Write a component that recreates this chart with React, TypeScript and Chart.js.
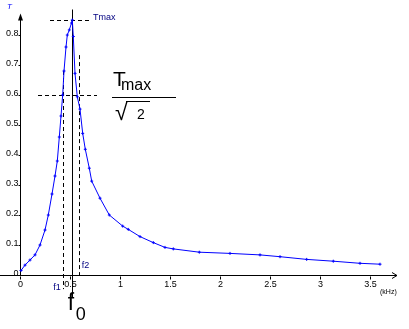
import React, { useEffect, useRef } from "react";
import { Chart, registerables } from "chart.js";
Chart.register(...registerables);

// frequency (kHz)
const freqKHz = [
  0.01, 0.05, 0.1, 0.15, 0.2, 0.25, 0.283, 0.32, 0.35, 0.373, 0.393, 0.41, 0.427,
  0.44, 0.46, 0.473, 0.493, 0.515, 0.523, 0.533, 0.55, 0.573, 0.6, 0.627, 0.653,
  0.693, 0.717, 0.8, 0.893, 1.027, 1.083, 1.2, 1.333, 1.45, 1.533, 1.793, 2.1,
  2.4, 2.6, 2.867, 3.133, 3.4, 3.6,
];
// transmission T
const transmission = [
  0.015, 0.033, 0.05, 0.067, 0.1, 0.15, 0.2, 0.27, 0.33, 0.38, 0.46, 0.53, 0.6,
  0.68, 0.76, 0.8, 0.817, 0.84, 0.85, 0.795, 0.672, 0.594, 0.553, 0.472, 0.419,
  0.356, 0.313, 0.256, 0.2, 0.163, 0.152, 0.128, 0.108, 0.092, 0.087, 0.076,
  0.072, 0.067, 0.061, 0.052, 0.046, 0.039, 0.036,
];

const xTickValues = [0, 0.5, 1, 1.5, 2, 2.5, 3, 3.5];
const xTickLabels = ["0", "0.5", "1", "1.5", "2", "2.5", "3", "3.5"];
const yTickValues = [0, 0.1, 0.2, 0.3, 0.4, 0.5, 0.6, 0.7, 0.8];
const yTickLabels = ["0", "0.1", "0.2", "0.3", "0.4", "0.5", "0.6", "0.7", "0.8"];

const tMax = 0.85;
const tCut = 0.6;
const f0 = 0.517;
const f1 = 0.433;
const f2 = 0.587;

const annotations = {
  id: "annotations",
  beforeDatasetsDraw(chart: any) {
    const { ctx } = chart;
    const xs = chart.scales.x;
    const ys = chart.scales.y;
    const X = (v: number) => xs.getPixelForValue(v);
    const Y = (v: number) => ys.getPixelForValue(v);
    ctx.save();
    ctx.strokeStyle = "#000";
    ctx.fillStyle = "#000";
    ctx.lineWidth = 1;
    // x axis
    const y0 = Math.round(Y(0)) + 0.5;
    ctx.beginPath();
    ctx.moveTo(X(-0.2), y0);
    ctx.lineTo(X(3.77), y0);
    ctx.stroke();
    const ax = X(3.77);
    ctx.beginPath();
    ctx.moveTo(ax - 5, y0 - 3);
    ctx.lineTo(ax, y0);
    ctx.lineTo(ax - 5, y0 + 3);
    ctx.stroke();
    // y axis
    const x0 = Math.round(X(0)) + 0.5;
    ctx.beginPath();
    ctx.moveTo(x0, y0);
    ctx.lineTo(x0, Y(0.865));
    ctx.stroke();
    const ay = Y(0.872);
    ctx.beginPath();
    ctx.moveTo(x0, ay);
    ctx.lineTo(x0 - 2.5, ay + 7);
    ctx.lineTo(x0 + 2.5, ay + 7);
    ctx.closePath();
    ctx.fill();
    // ticks + labels
    ctx.font = "9px 'Liberation Sans', Arial, sans-serif";
    ctx.textAlign = "center";
    ctx.textBaseline = "top";
    xTickValues.forEach((v, i) => {
      const px = Math.round(X(v)) + 0.5;
      ctx.beginPath();
      ctx.moveTo(px, y0 + 1);
      ctx.lineTo(px, y0 + 4);
      ctx.stroke();
      ctx.fillText(xTickLabels[i], px, y0 + 5);
    });
    ctx.textAlign = "right";
    ctx.textBaseline = "middle";
    yTickValues.forEach((v, i) => {
      const py = Math.round(Y(v)) + 0.5;
      ctx.beginPath();
      ctx.moveTo(x0 - 2, py);
      ctx.lineTo(x0, py);
      ctx.stroke();
      ctx.fillText(yTickLabels[i], x0 - 2, py - 2);
    });
    // dashed guide lines
    ctx.setLineDash([4, 3]);
    const hline = (y: number, a: number, b: number) => {
      const py = Math.round(Y(y)) + 0.5;
      ctx.beginPath();
      ctx.moveTo(X(a), py);
      ctx.lineTo(X(b), py);
      ctx.stroke();
    };
    const vline = (x: number, a: number, b: number) => {
      const px = Math.round(X(x)) + 0.5;
      ctx.beginPath();
      ctx.moveTo(px, Y(a));
      ctx.lineTo(px, Y(b));
      ctx.stroke();
    };
    hline(tMax, 0.3, 0.72);
    hline(tCut, 0.18, 0.77);
    vline(f1, 0.68, -0.047);
    vline(f2, 0.733, 0);
    ctx.setLineDash([]);
    vline(f0, 0.885, -0.077);
    ctx.restore();
  },
  afterDatasetsDraw(chart: any) {
    const { ctx } = chart;
    const xs = chart.scales.x;
    const ys = chart.scales.y;
    const X = (v: number) => xs.getPixelForValue(v);
    const Y = (v: number) => ys.getPixelForValue(v);
    ctx.save();
    ctx.textAlign = "left";
    ctx.textBaseline = "alphabetic";
    ctx.fillStyle = "#0000ff";
    ctx.font = "italic 8px 'Liberation Sans', Arial, sans-serif";
    ctx.fillText("T", 7, 9);
    ctx.fillStyle = "#000";
    ctx.font = "7px 'Liberation Sans', Arial, sans-serif";
    ctx.fillText("(kHz)", X(3.6), Y(0) + 19);
    ctx.fillStyle = "#000080";
    ctx.font = "9px 'Liberation Sans', Arial, sans-serif";
    ctx.fillText("Tmax", X(0.73), Y(tMax));
    ctx.fillText("f1", X(f1) - 10, Y(0) + 15);
    ctx.fillText("f2", X(f2) + 3, Y(0) - 7);
    // fraction Tmax / sqrt 2
    ctx.fillStyle = "#000";
    const fx = X(0.92);
    const fy = Math.round(Y(0.594)) + 0.5;
    ctx.font = "21px 'Liberation Sans', Arial, sans-serif";
    ctx.fillText("T", fx + 1, fy - 12);
    ctx.font = "16px 'Liberation Sans', Arial, sans-serif";
    ctx.fillText("max", fx + 9, fy - 8);
    ctx.lineWidth = 1;
    ctx.strokeStyle = "#000";
    ctx.beginPath();
    ctx.moveTo(fx, fy);
    ctx.lineTo(fx + 64, fy);
    ctx.stroke();
    ctx.font = "23px 'Liberation Sans', Arial, sans-serif";
    ctx.fillText("√", fx + 3, fy + 22);
    ctx.beginPath();
    ctx.moveTo(fx + 14, fy + 4);
    ctx.lineTo(fx + 38, fy + 4);
    ctx.stroke();
    ctx.font = "14px 'Liberation Sans', Arial, sans-serif";
    ctx.fillText("2", fx + 25, fy + 21);
    // f0
    ctx.font = "23px 'Liberation Sans', Arial, sans-serif";
    ctx.fillText("f", X(f0) - 4, Y(0) + 35);
    ctx.font = "18px 'Liberation Sans', Arial, sans-serif";
    ctx.fillText("0", X(f0) + 4, Y(0) + 45);
    ctx.restore();
  },
};

export default function App() {
  const ref = useRef<HTMLCanvasElement>(null);
  useEffect(() => {
    if (!ref.current) return;
    const chart = new Chart(ref.current, {
      type: "line",
      data: {
        datasets: [
          {
            data: freqKHz.map((f, i) => ({ x: f, y: transmission[i] })),
            borderColor: "#0000ff",
            backgroundColor: "#0000ff",
            borderWidth: 1,
            pointStyle: "cross",
            pointRadius: 1.5,
            pointBorderWidth: 1,
            tension: 0,
            clip: false as any,
          },
        ],
      },
      options: {
        animation: false,
        responsive: false,
        maintainAspectRatio: false,
        layout: { padding: { left: 20, right: 14, top: 15, bottom: 54 } },
        plugins: { legend: { display: false }, tooltip: { enabled: false } },
        scales: {
          x: { type: "linear", min: 0, max: 3.75, display: false },
          y: { type: "linear", min: 0, max: 0.8667, display: false },
        },
      },
      plugins: [annotations],
    });
    return () => chart.destroy();
  }, []);
  return (
    <div style={{ position: "fixed", left: 0, top: 0, width: 409, height: 329, background: "#fff" }}>
      <canvas ref={ref} width={409} height={329} />
    </div>
  );
}
